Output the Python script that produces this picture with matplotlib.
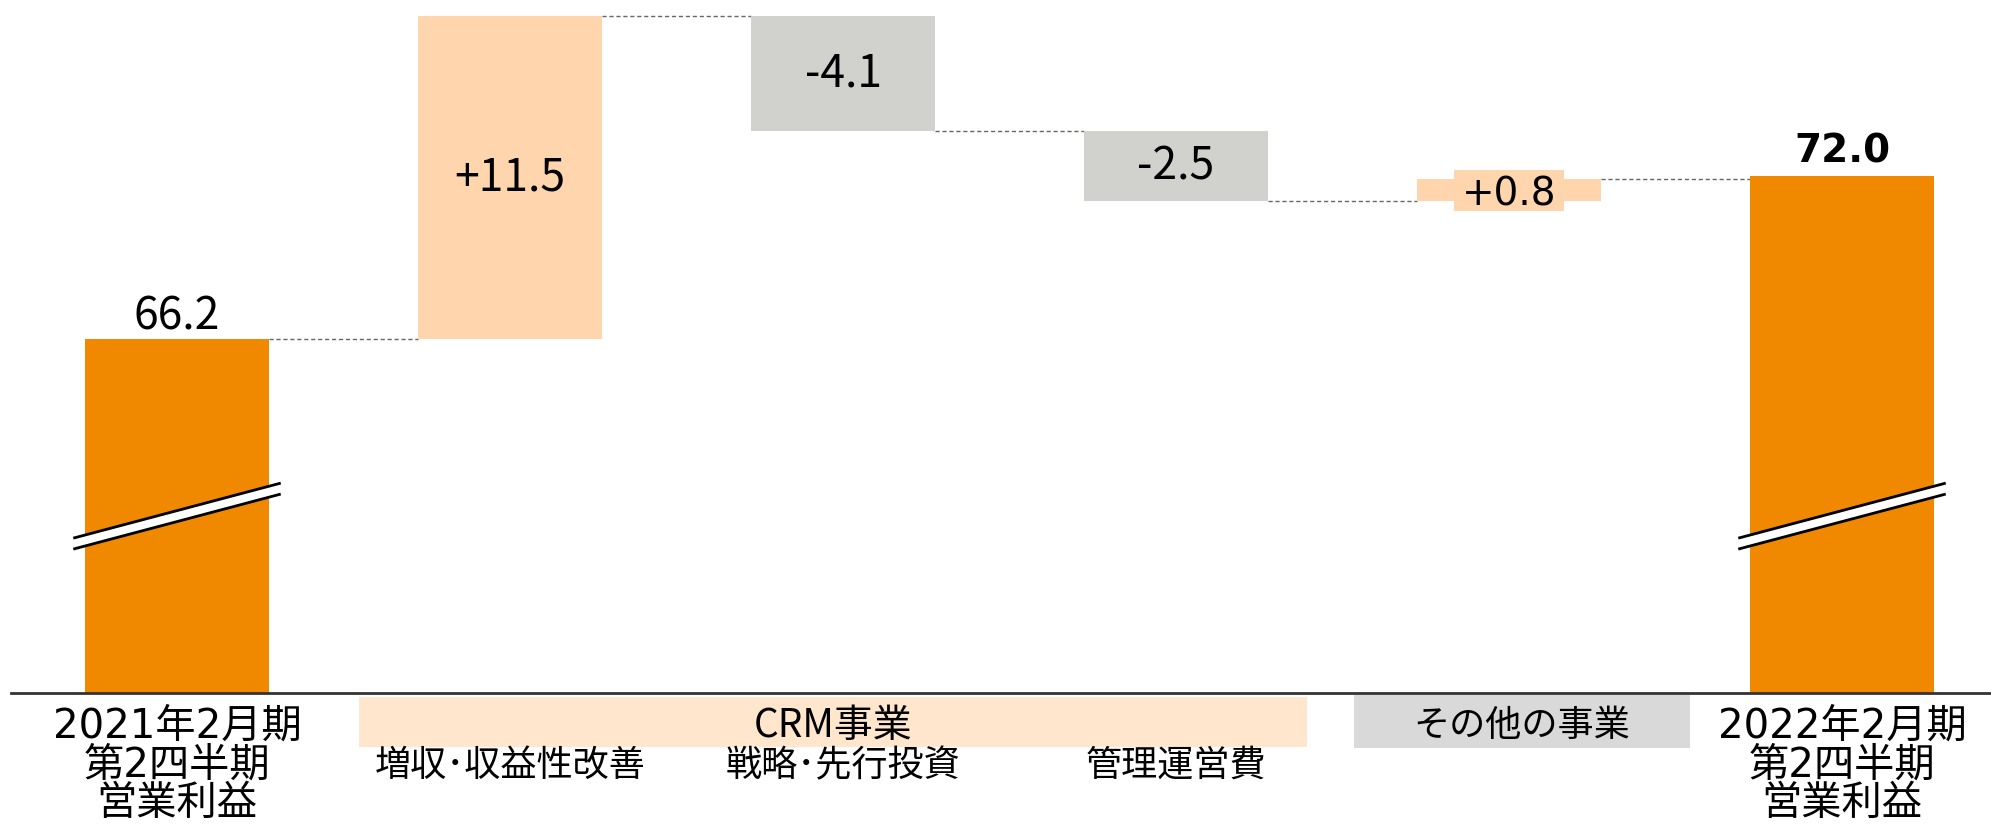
import matplotlib
matplotlib.use("Agg")
import matplotlib.pyplot as plt
from matplotlib import transforms
from matplotlib.patches import Rectangle, Polygon

plt.rcParams['font.family'] = ['Noto Sans CJK JP', 'DejaVu Sans']
WIDE = ['DejaVu Sans', 'Noto Sans CJK JP']   # 数字が広いフォント

# データ（単位：億円）
START_VALUE = 66.2
END_VALUE = 72.0
DELTAS = [11.5, -4.1, -2.5, 0.8]
DELTA_LABELS = ["+11.5", "-4.1", "-2.5", "+0.8"]
START_LABEL = ["2021年2月期", "第2四半期", "営業利益"]
END_LABEL = ["2022年2月期", "第2四半期", "営業利益"]
SUB_LABELS = ["増収･収益性改善", "戦略･先行投資", "管理運営費"]
GROUP_LABELS = ["CRM事業", "その他の事業"]

# 色
ORANGE = "#F08800"
PEACH = "#FFD5AD"
GRAY = "#D1D1CD"
CRM_BG = "#FFE6CC"
OTHER_BG = "#D9D9D9"

W = 0.555          # 棒の幅
Y_MIN, Y_MAX = 53.615, 78.27
BREAK_Y = 60.09    # 波線の位置


def fy(px):
    # 上からのピクセル -> figure座標
    return 1 - px / 824


def draw_break(ax, c):
    half = W / 2 + 0.034
    dy = 0.98
    gap = 0.39
    x0, x1 = c - half, c + half
    top = [(x0, BREAK_Y - dy), (x1, BREAK_Y + dy)]
    bot = [(x0, BREAK_Y - dy - gap), (x1, BREAK_Y + dy - gap)]
    ax.add_patch(Polygon(top + bot[::-1], closed=True, fc="white", ec="none", zorder=4))
    for seg in (top, bot):
        ax.plot([p[0] for p in seg], [p[1] for p in seg], color="black", lw=2, zorder=5,
                solid_capstyle="butt")


def main():
    fig = plt.figure(figsize=(19.91, 8.24), dpi=100)
    ax = fig.add_axes([0, fy(692.5), 1, 692.5 / 824])
    ax.set_xlim(-0.5315, 5.4474)
    ax.set_ylim(Y_MIN, Y_MAX)
    ax.axis("off")

    n = len(DELTAS)
    xs = list(range(n + 2))

    # 始点・終点の棒
    ax.bar(xs[0], START_VALUE - Y_MIN, bottom=Y_MIN, width=W, color=ORANGE, zorder=2)
    ax.bar(xs[-1], END_VALUE - Y_MIN, bottom=Y_MIN, width=W, color=ORANGE, zorder=2)

    # 増減の棒
    level = START_VALUE
    levels = [level]
    for i, d in enumerate(DELTAS):
        color = PEACH if d > 0 else GRAY
        bottom = level if d > 0 else level + d
        ax.bar(xs[i + 1], abs(d), bottom=bottom, width=W, color=color, zorder=2)
        mid = bottom + abs(d) / 2
        if i == n - 1:
            # 小さい棒はラベルの後ろに箱を敷く
            ax.add_patch(Rectangle((xs[i + 1] - 0.165, mid - 0.73), 0.33, 1.46,
                                   fc=PEACH, ec="none", zorder=2))
            ax.text(xs[i + 1], mid, DELTA_LABELS[i], ha="center", va="center_baseline",
                    fontsize=28, family=WIDE, zorder=3)
        else:
            ax.text(xs[i + 1], mid, DELTA_LABELS[i], ha="center", va="center", fontsize=32, zorder=3)
        level += d
        levels.append(level)

    # 点線のつなぎ
    for i in range(n + 1):
        ax.plot([xs[i] + W / 2, xs[i + 1] - W / 2], [levels[i], levels[i]],
                ls=(0, (3, 2)), color="#666666", lw=1, zorder=1)

    # 値ラベル
    ax.annotate(f"{START_VALUE:.1f}", (xs[0], START_VALUE), xytext=(0, 16.5),
                textcoords="offset points", ha="center", va="center", fontsize=32)
    ax.annotate(f"{END_VALUE:.1f}", (xs[-1], END_VALUE), xytext=(0, 18),
                textcoords="offset points", ha="center", va="center", fontsize=28,
                fontweight="bold", family=WIDE)

    # 波線（省略記号）
    draw_break(ax, xs[0])
    draw_break(ax, xs[-1])

    # 軸線
    ax.axhline(Y_MIN, xmin=11 / 1991, xmax=1, color="#333333", lw=2, clip_on=False, zorder=6)

    trans = transforms.blended_transform_factory(ax.transData, fig.transFigure)

    # 区分の背景
    crm_x0, crm_x1 = 0.5465, 3.393
    oth_x0, oth_x1 = 3.535, 4.544
    ax.add_patch(Rectangle((crm_x0, fy(747)), crm_x1 - crm_x0, 50 / 824, transform=trans,
                           fc=CRM_BG, ec="none", clip_on=False))
    ax.add_patch(Rectangle((oth_x0, fy(748)), oth_x1 - oth_x0, 53 / 824, transform=trans,
                           fc=OTHER_BG, ec="none", clip_on=False))
    ax.text((crm_x0 + crm_x1) / 2, fy(726), GROUP_LABELS[0], transform=trans,
            ha="center", va="center", fontsize=28)
    ax.text((oth_x0 + oth_x1) / 2, fy(726), GROUP_LABELS[1], transform=trans,
            ha="center", va="center", fontsize=26)

    # x軸ラベル
    for j, (a, b) in enumerate(zip(START_LABEL, END_LABEL)):
        y = fy(727 + 38.5 * j)
        ax.text(xs[0], y, a, transform=trans, ha="center", va="center", fontsize=29, family=WIDE)
        ax.text(xs[-1], y, b, transform=trans, ha="center", va="center", fontsize=29, family=WIDE)
    for i, lab in enumerate(SUB_LABELS):
        ax.text(xs[i + 1], fy(766), lab, transform=trans, ha="center", va="center", fontsize=26)

    fig.savefig("out.png", dpi=100)
    plt.close(fig)


if __name__ == "__main__":
    main()
